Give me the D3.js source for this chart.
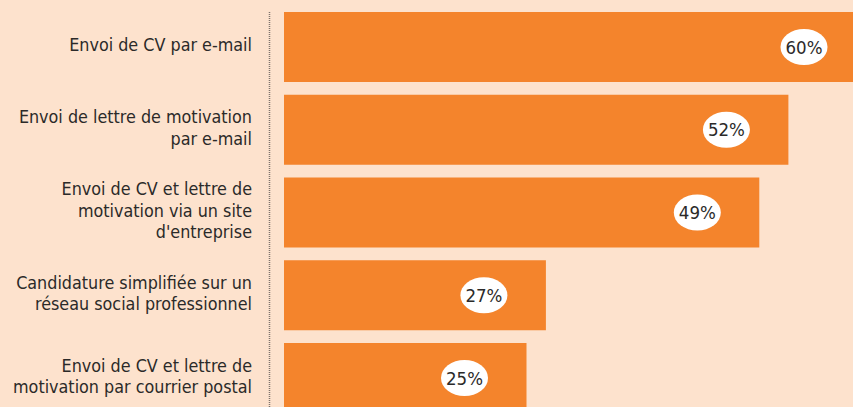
<html>
<head>
<meta charset="utf-8">
<title>Candidatures</title>
<style>
  body { margin: 0; background: #fde2cd; }
  svg { display: block; }
  .cat { font-family: "Liberation Sans Narrow", "DejaVu Sans Condensed", sans-serif; font-size: 17.8px; fill: #2b2a29; }
  .val { font-family: "Liberation Sans Narrow", "DejaVu Sans Condensed", sans-serif; font-size: 18.5px; fill: #2b2a29; }
</style>
</head>
<body>
<svg id="chart" width="853" height="407"></svg>
<script src="https://cdnjs.cloudflare.com/ajax/libs/d3/7.8.5/d3.min.js"></script>
<script>
var categories = [
  ["Envoi de CV par e-mail"],
  ["Envoi de lettre de motivation", "par e-mail"],
  ["Envoi de CV et lettre de", "motivation via un site", "d'entreprise"],
  ["Candidature simplifiée sur un", "réseau social professionnel"],
  ["Envoi de CV et lettre de", "motivation par courrier postal"]
];
var values = [60, 52, 49, 27, 25];
var valueLabels = ["60%", "52%", "49%", "27%", "25%"];

var width = 853, height = 407,
    plotLeft = 284, plotTop = 12,
    step = 82.75, barH = 70;

var svg = d3.select("#chart");

var x = d3.scaleLinear().domain([0, 60]).range([plotLeft, plotLeft + 582]);
var y = d3.scaleBand()
    .domain(d3.range(values.length))
    .range([plotTop, plotTop + step * (values.length - 1) + barH])
    .paddingInner((step - barH) / step)
    .paddingOuter(0);

// dotted separator
svg.append("line")
   .attr("x1", 269.5).attr("x2", 269.5)
   .attr("y1", 12).attr("y2", height)
   .attr("stroke", "#7d726b")
   .attr("stroke-width", 1.5)
   .attr("stroke-dasharray", "1,1");

var rows = svg.selectAll("g.row").data(values).enter()
   .append("g").attr("class", "row");

rows.append("rect")
   .attr("x", x(0))
   .attr("y", function(d, i) { return y(i); })
   .attr("width", function(d) { return x(d) - x(0); })
   .attr("height", y.bandwidth())
   .attr("fill", "#f4842c");

rows.append("ellipse")
   .attr("cx", function(d) { return x(d) - 62; })
   .attr("cy", function(d, i) { return y(i) + y.bandwidth() / 2; })
   .attr("rx", 23.5).attr("ry", 18)
   .attr("fill", "#ffffff");

rows.append("text")
   .attr("class", "val")
   .attr("x", function(d) { return x(d) - 62; })
   .attr("y", function(d, i) { return y(i) + y.bandwidth() / 2; })
   .attr("dy", "0.36em")
   .attr("text-anchor", "middle")
   .text(function(d, i) { return valueLabels[i]; });

var lh = 21.5;
rows.append("text")
   .attr("class", "cat")
   .attr("text-anchor", "end")
   .each(function(d, i) {
     var lines = categories[i];
     var cy = y(i) + y.bandwidth() / 2 - 2;
     d3.select(this).selectAll("tspan").data(lines).enter()
       .append("tspan")
       .attr("x", 252)
       .attr("y", function(t, j) { return cy + (j - (lines.length - 1) / 2) * lh; })
       .attr("dy", "0.36em")
       .text(function(t) { return t; });
   });
</script>
</body>
</html>
